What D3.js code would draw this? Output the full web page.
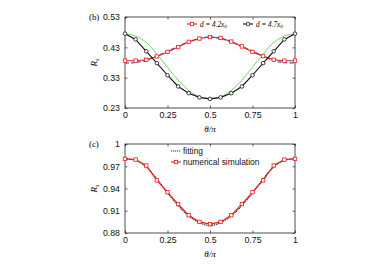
<!DOCTYPE html>
<html>
<head>
<meta charset="utf-8">
<script src="https://cdn.jsdelivr.net/npm/d3@7"></script>
<style>
  body { margin: 0; background: #fff; }
  text { font-family: "Liberation Sans", Arial, sans-serif; }
  .serif { font-family: "Liberation Serif", "Times New Roman", serif; }
</style>
</head>
<body>
<div id="chart"></div>
<script>
// theta / pi samples
const theta = [0, 0.0625, 0.125, 0.1875, 0.25, 0.3125, 0.375, 0.4375, 0.5,
               0.5625, 0.625, 0.6875, 0.75, 0.8125, 0.875, 0.9375, 1];

// panel (b)
const rsD42 = [0.386, 0.386, 0.389, 0.400, 0.415, 0.431, 0.448, 0.459, 0.464,
               0.461, 0.449, 0.433, 0.415, 0.401, 0.389, 0.386, 0.386];
const fitD42 = [0.378, 0.380, 0.387, 0.401, 0.417, 0.433, 0.448, 0.459, 0.464,
                0.459, 0.448, 0.433, 0.417, 0.401, 0.387, 0.380, 0.378];
const rsD47 = [0.475, 0.456, 0.417, 0.378, 0.338, 0.301, 0.279, 0.265, 0.260,
               0.265, 0.279, 0.301, 0.338, 0.378, 0.417, 0.456, 0.475];
const fitD47 = [0.475, 0.467, 0.446, 0.408, 0.364, 0.322, 0.288, 0.267, 0.260,
                0.267, 0.288, 0.322, 0.364, 0.408, 0.446, 0.467, 0.475];

// panel (c)
const rsSim = [0.980, 0.979, 0.971, 0.951, 0.935, 0.919, 0.904, 0.895, 0.892,
               0.895, 0.904, 0.919, 0.935, 0.951, 0.971, 0.979, 0.980];
const rsFit = [0.980, 0.978, 0.969, 0.953, 0.934, 0.917, 0.903, 0.894, 0.890,
               0.894, 0.903, 0.917, 0.934, 0.953, 0.969, 0.978, 0.980];

const xTicks = [0, 0.25, 0.5, 0.75, 1];
const xTickLabels = ["0", "0.25", "0.5", "0.75", "1"];
const yTicksB = [0.23, 0.33, 0.43, 0.53];
const yTicksC = [0.88, 0.91, 0.94, 0.97, 1];

const width = 374, height = 264;
const svg = d3.select("#chart").append("svg")
    .attr("width", width)
    .attr("height", height);

const x = d3.scaleLinear().domain([0, 1]).range([125, 295]);

function panel(top, bottom, yDomain, yTicks, tag) {
    const y = d3.scaleLinear().domain(yDomain).range([bottom, top]);
    const g = svg.append("g");

    g.append("rect")
        .attr("x", x.range()[0]).attr("y", top)
        .attr("width", x.range()[1] - x.range()[0])
        .attr("height", bottom - top)
        .attr("fill", "none").attr("stroke", "#222").attr("stroke-width", 0.8);

    const xa = g.append("g").attr("transform", `translate(0,${bottom})`)
        .call(d3.axisBottom(x).tickValues(xTicks)
            .tickFormat((d, i) => xTickLabels[i])
            .tickSizeInner(-2.5).tickSizeOuter(0).tickPadding(4));
    const xt = g.append("g").attr("transform", `translate(0,${top})`)
        .call(d3.axisTop(x).tickValues(xTicks).tickFormat("")
            .tickSizeInner(-2.5).tickSizeOuter(0));
    const ya = g.append("g").attr("transform", `translate(${x.range()[0]},0)`)
        .call(d3.axisLeft(y).tickValues(yTicks).tickFormat(d => d3.format("")(d))
            .tickSizeInner(-2.5).tickSizeOuter(0).tickPadding(5));
    const yr = g.append("g").attr("transform", `translate(${x.range()[1]},0)`)
        .call(d3.axisRight(y).tickValues(yTicks).tickFormat("")
            .tickSizeInner(-2.5).tickSizeOuter(0));

    [xa, xt, ya, yr].forEach(a => {
        a.select(".domain").remove();
        a.selectAll("line").attr("stroke", "#222").attr("stroke-width", 0.7);
        a.selectAll("text").attr("font-size", 8.8).attr("fill", "#111")
            .attr("font-family", "'Liberation Sans', Arial, sans-serif");
    });

    g.append("text").attr("class", "serif")
        .attr("x", 210).attr("y", bottom + 24)
        .attr("text-anchor", "middle").attr("font-size", 9).attr("font-style", "italic")
        .text("θ/π");

    const rl = g.append("text").attr("class", "serif")
        .attr("transform", `translate(97,${(top + bottom) / 2}) rotate(-90)`)
        .attr("text-anchor", "middle").attr("font-size", 9).attr("font-style", "italic");
    rl.append("tspan").text("R");
    rl.append("tspan").attr("font-size", 6).attr("dy", 2).text("s");

    g.append("text").attr("class", "serif")
        .attr("x", 89).attr("y", top + 3)
        .attr("font-size", 8.8).text(tag);

    return y;
}

function smoothLine(y, vals, color, width, dash) {
    svg.append("path")
        .datum(theta)
        .attr("fill", "none")
        .attr("stroke", color)
        .attr("stroke-width", width)
        .attr("stroke-dasharray", dash || null)
        .attr("d", d3.line().curve(d3.curveCatmullRom)
            .x(d => x(d)).y((d, i) => y(vals[i])));
}

function markerLine(y, vals, color, shape) {
    svg.append("path")
        .datum(theta)
        .attr("fill", "none")
        .attr("stroke", color)
        .attr("stroke-width", 1.1)
        .attr("d", d3.line().x(d => x(d)).y((d, i) => y(vals[i])));
    const m = svg.append("g");
    if (shape === "square") {
        m.selectAll("rect").data(theta).enter().append("rect")
            .attr("x", d => x(d) - 1.7)
            .attr("y", (d, i) => y(vals[i]) - 1.7)
            .attr("width", 3.4).attr("height", 3.4)
            .attr("fill", "#fff").attr("stroke", color).attr("stroke-width", 0.8);
    } else {
        m.selectAll("circle").data(theta).enter().append("circle")
            .attr("cx", d => x(d))
            .attr("cy", (d, i) => y(vals[i]))
            .attr("r", 1.8)
            .attr("fill", "#fff").attr("stroke", color).attr("stroke-width", 0.8);
    }
}

// ---- panel (b)
const yB = panel(17, 108, [0.23, 0.53], yTicksB, "(b)");
smoothLine(yB, fitD42, "#4a8ee8", 1.6, "4,2");
markerLine(yB, rsD42, "#f01818", "square");
smoothLine(yB, fitD47, "#6ccc5a", 0.9);
markerLine(yB, rsD47, "#111", "circle");

// legend (b)
const legB = svg.append("g");
[{ x0: 187, color: "#f01818", shape: "square", lab: "4.2" },
 { x0: 243, color: "#111", shape: "circle", lab: "4.7" }].forEach(it => {
    legB.append("line").attr("x1", it.x0).attr("x2", it.x0 + 10)
        .attr("y1", 24).attr("y2", 24)
        .attr("stroke", it.color).attr("stroke-width", 1.1);
    if (it.shape === "square") {
        legB.append("rect").attr("x", it.x0 + 3.3).attr("y", 22.3)
            .attr("width", 3.4).attr("height", 3.4)
            .attr("fill", "#fff").attr("stroke", it.color).attr("stroke-width", 0.8);
    } else {
        legB.append("circle").attr("cx", it.x0 + 5).attr("cy", 24).attr("r", 1.8)
            .attr("fill", "#fff").attr("stroke", it.color).attr("stroke-width", 0.8);
    }
    const t = legB.append("text").attr("class", "serif")
        .attr("x", it.x0 + 13).attr("y", 26.5)
        .attr("font-size", 7.2).attr("font-style", "italic");
    t.append("tspan").text(`d = ${it.lab}x`);
    t.append("tspan").attr("font-size", 5).attr("dy", 1.5).text("0");
});

// ---- panel (c)
const yC = panel(144, 233, [0.88, 1], yTicksC, "(c)");
smoothLine(yC, rsFit, "#333", 1.3, "1.2,0.8");
markerLine(yC, rsSim, "#f01818", "square");

// legend (c)
const legC = svg.append("g");
legC.append("line").attr("x1", 171).attr("x2", 181).attr("y1", 151).attr("y2", 151)
    .attr("stroke", "#333").attr("stroke-width", 1.1).attr("stroke-dasharray", "1.2,0.8");
legC.append("text").attr("x", 183).attr("y", 154)
    .attr("font-size", 8.4).attr("fill", "#111").text("fitting");
legC.append("line").attr("x1", 171).attr("x2", 181).attr("y1", 162).attr("y2", 162)
    .attr("stroke", "#f01818").attr("stroke-width", 1.1);
legC.append("rect").attr("x", 174.3).attr("y", 160.3).attr("width", 3.4).attr("height", 3.4)
    .attr("fill", "#fff").attr("stroke", "#f01818").attr("stroke-width", 0.8);
legC.append("text").attr("x", 183).attr("y", 165)
    .attr("font-size", 8.4).attr("fill", "#111").text("numerical simulation");
</script>
</body>
</html>
